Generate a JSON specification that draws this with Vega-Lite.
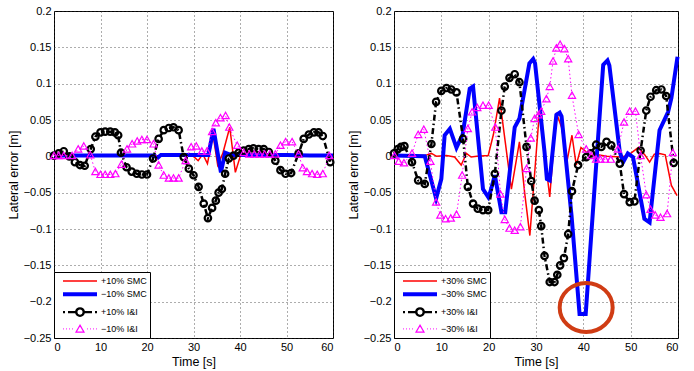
{
  "$schema": "https://vega.github.io/schema/vega-lite/v6.json",
  "background": "white",
  "padding": {"left": 6, "top": 4, "right": 5, "bottom": 3},
  "bounds": "flush",
  "spacing": 61,
  "config": {
    "font": "Liberation Sans",
    "view": {"stroke": "black", "strokeWidth": 1},
    "axis": {
      "labelFont": "Liberation Sans", "labelFontSize": 11, "labelColor": "black",
      "titleFont": "Liberation Sans", "titleFontSize": 12.5, "titleFontWeight": "normal", "titleColor": "black",
      "domain": false, "ticks": false, "labelPadding": 3, "titlePadding": 3,
      "grid": true, "gridDash": [1, 3], "gridColor": "#333333", "gridOpacity": 0.8, "gridWidth": 1
    },
    "legend": {"labelFont": "Liberation Sans"}
  },
  "resolve": {"scale": {"color": "independent", "shape": "independent", "strokeWidth": "independent"}, "legend": {"color": "independent", "shape": "independent", "strokeWidth": "independent"}},
  "datasets": {
    "L": [
      {"s": "+10% SMC", "t": 0, "v": 0.001}, {"s": "+10% SMC", "t": 10, "v": 0.001}, {"s": "+10% SMC", "t": 20, "v": 0.001}, {"s": "+10% SMC", "t": 22, "v": 0.0}, {"s": "+10% SMC", "t": 30, "v": 0.0}, {"s": "+10% SMC", "t": 31, "v": -0.006}, {"s": "+10% SMC", "t": 32, "v": 0.003}, {"s": "+10% SMC", "t": 33, "v": -0.01}, {"s": "+10% SMC", "t": 34.2, "v": 0.03}, {"s": "+10% SMC", "t": 35.2, "v": -0.012}, {"s": "+10% SMC", "t": 36.3, "v": 0.004}, {"s": "+10% SMC", "t": 37.8, "v": 0.04}, {"s": "+10% SMC", "t": 39.0, "v": -0.022}, {"s": "+10% SMC", "t": 40.2, "v": 0.003}, {"s": "+10% SMC", "t": 41, "v": 0.001}, {"s": "+10% SMC", "t": 50, "v": 0.001}, {"s": "+10% SMC", "t": 60, "v": 0.001},
      {"s": "−10% SMC", "t": 0, "v": 0.001}, {"s": "−10% SMC", "t": 21.5, "v": 0.001}, {"s": "−10% SMC", "t": 22.3, "v": -0.002}, {"s": "−10% SMC", "t": 23, "v": 0.002}, {"s": "−10% SMC", "t": 33.2, "v": 0.002}, {"s": "−10% SMC", "t": 34.3, "v": 0.038}, {"s": "−10% SMC", "t": 35.9, "v": -0.022}, {"s": "−10% SMC", "t": 36.8, "v": 0.005}, {"s": "−10% SMC", "t": 38, "v": 0.002}, {"s": "−10% SMC", "t": 50, "v": 0.002}, {"s": "−10% SMC", "t": 55, "v": 0.001}, {"s": "−10% SMC", "t": 60, "v": 0.001},
      {"s": "+10% I&I", "t": 0, "v": 0.001}, {"s": "+10% I&I", "t": 1.0, "v": 0.004}, {"s": "+10% I&I", "t": 2.1, "v": 0.007}, {"s": "+10% I&I", "t": 3.3, "v": 0.0}, {"s": "+10% I&I", "t": 4.5, "v": -0.008}, {"s": "+10% I&I", "t": 5.6, "v": -0.012}, {"s": "+10% I&I", "t": 6.6, "v": -0.013}, {"s": "+10% I&I", "t": 7.9, "v": 0.01}, {"s": "+10% I&I", "t": 8.9, "v": 0.027}, {"s": "+10% I&I", "t": 10.0, "v": 0.033}, {"s": "+10% I&I", "t": 11.0, "v": 0.034}, {"s": "+10% I&I", "t": 12.1, "v": 0.034}, {"s": "+10% I&I", "t": 13.1, "v": 0.033}, {"s": "+10% I&I", "t": 13.8, "v": 0.029}, {"s": "+10% I&I", "t": 14.4, "v": 0.005}, {"s": "+10% I&I", "t": 15.6, "v": -0.015}, {"s": "+10% I&I", "t": 16.7, "v": -0.021}, {"s": "+10% I&I", "t": 17.8, "v": -0.024}, {"s": "+10% I&I", "t": 18.9, "v": -0.025}, {"s": "+10% I&I", "t": 20.0, "v": -0.025}, {"s": "+10% I&I", "t": 21.3, "v": -0.003}, {"s": "+10% I&I", "t": 22.5, "v": 0.024}, {"s": "+10% I&I", "t": 23.6, "v": 0.036}, {"s": "+10% I&I", "t": 24.7, "v": 0.039}, {"s": "+10% I&I", "t": 25.7, "v": 0.04}, {"s": "+10% I&I", "t": 26.8, "v": 0.036}, {"s": "+10% I&I", "t": 27.9, "v": -0.001}, {"s": "+10% I&I", "t": 29.0, "v": -0.017}, {"s": "+10% I&I", "t": 30.0, "v": -0.026}, {"s": "+10% I&I", "t": 31.1, "v": -0.042}, {"s": "+10% I&I", "t": 32.2, "v": -0.065}, {"s": "+10% I&I", "t": 33.1, "v": -0.085}, {"s": "+10% I&I", "t": 34.0, "v": -0.071}, {"s": "+10% I&I", "t": 34.8, "v": -0.061}, {"s": "+10% I&I", "t": 35.4, "v": -0.05}, {"s": "+10% I&I", "t": 36.1, "v": -0.045}, {"s": "+10% I&I", "t": 36.8, "v": -0.024}, {"s": "+10% I&I", "t": 37.6, "v": -0.003}, {"s": "+10% I&I", "t": 38.6, "v": 0.001}, {"s": "+10% I&I", "t": 39.7, "v": 0.005}, {"s": "+10% I&I", "t": 40.8, "v": 0.008}, {"s": "+10% I&I", "t": 41.9, "v": 0.01}, {"s": "+10% I&I", "t": 42.9, "v": 0.011}, {"s": "+10% I&I", "t": 44.0, "v": 0.01}, {"s": "+10% I&I", "t": 45.1, "v": 0.01}, {"s": "+10% I&I", "t": 46.2, "v": 0.006}, {"s": "+10% I&I", "t": 47.6, "v": -0.006}, {"s": "+10% I&I", "t": 48.7, "v": -0.019}, {"s": "+10% I&I", "t": 49.8, "v": -0.024}, {"s": "+10% I&I", "t": 51.0, "v": -0.023}, {"s": "+10% I&I", "t": 52.6, "v": 0.004}, {"s": "+10% I&I", "t": 53.7, "v": 0.024}, {"s": "+10% I&I", "t": 54.8, "v": 0.03}, {"s": "+10% I&I", "t": 55.9, "v": 0.033}, {"s": "+10% I&I", "t": 56.9, "v": 0.033}, {"s": "+10% I&I", "t": 57.8, "v": 0.028}, {"s": "+10% I&I", "t": 59.4, "v": -0.008},
      {"s": "−10% I&I", "t": 0, "v": 0.001}, {"s": "−10% I&I", "t": 1.0, "v": 0.001}, {"s": "−10% I&I", "t": 2.1, "v": 0.001}, {"s": "−10% I&I", "t": 3.9, "v": 0.001}, {"s": "−10% I&I", "t": 5.2, "v": 0.01}, {"s": "−10% I&I", "t": 6.4, "v": 0.014}, {"s": "−10% I&I", "t": 7.8, "v": 0.002}, {"s": "−10% I&I", "t": 8.9, "v": -0.021}, {"s": "−10% I&I", "t": 10.0, "v": -0.025}, {"s": "−10% I&I", "t": 11.0, "v": -0.025}, {"s": "−10% I&I", "t": 12.1, "v": -0.025}, {"s": "−10% I&I", "t": 13.2, "v": -0.024}, {"s": "−10% I&I", "t": 14.5, "v": -0.011}, {"s": "−10% I&I", "t": 15.7, "v": 0.01}, {"s": "−10% I&I", "t": 16.8, "v": 0.017}, {"s": "−10% I&I", "t": 17.9, "v": 0.021}, {"s": "−10% I&I", "t": 18.9, "v": 0.023}, {"s": "−10% I&I", "t": 20.0, "v": 0.023}, {"s": "−10% I&I", "t": 21.4, "v": 0.017}, {"s": "−10% I&I", "t": 22.5, "v": -0.012}, {"s": "−10% I&I", "t": 23.6, "v": -0.026}, {"s": "−10% I&I", "t": 24.7, "v": -0.03}, {"s": "−10% I&I", "t": 25.7, "v": -0.03}, {"s": "−10% I&I", "t": 26.8, "v": -0.03}, {"s": "−10% I&I", "t": 28.3, "v": -0.006}, {"s": "−10% I&I", "t": 29.5, "v": 0.013}, {"s": "−10% I&I", "t": 30.6, "v": 0.014}, {"s": "−10% I&I", "t": 31.8, "v": 0.007}, {"s": "−10% I&I", "t": 32.9, "v": 0.007}, {"s": "−10% I&I", "t": 34.0, "v": 0.034}, {"s": "−10% I&I", "t": 34.8, "v": 0.046}, {"s": "−10% I&I", "t": 35.8, "v": 0.053}, {"s": "−10% I&I", "t": 36.9, "v": 0.056}, {"s": "−10% I&I", "t": 37.7, "v": 0.04}, {"s": "−10% I&I", "t": 39.4, "v": 0.015}, {"s": "−10% I&I", "t": 40.8, "v": 0.005}, {"s": "−10% I&I", "t": 42.0, "v": 0.003}, {"s": "−10% I&I", "t": 43.1, "v": 0.003}, {"s": "−10% I&I", "t": 44.2, "v": 0.003}, {"s": "−10% I&I", "t": 45.3, "v": 0.003}, {"s": "−10% I&I", "t": 46.4, "v": 0.003}, {"s": "−10% I&I", "t": 47.6, "v": 0.003}, {"s": "−10% I&I", "t": 48.7, "v": 0.015}, {"s": "−10% I&I", "t": 49.8, "v": 0.02}, {"s": "−10% I&I", "t": 51.2, "v": 0.02}, {"s": "−10% I&I", "t": 52.6, "v": 0.003}, {"s": "−10% I&I", "t": 53.5, "v": -0.016}, {"s": "−10% I&I", "t": 54.4, "v": -0.021}, {"s": "−10% I&I", "t": 55.5, "v": -0.024}, {"s": "−10% I&I", "t": 56.6, "v": -0.025}, {"s": "−10% I&I", "t": 57.8, "v": -0.024}, {"s": "−10% I&I", "t": 59.2, "v": 0.001}
    ],
    "R": [
      {"s": "+30% SMC", "t": 0, "v": 0.001}, {"s": "+30% SMC", "t": 5, "v": 0.001}, {"s": "+30% SMC", "t": 6.5, "v": 0.001}, {"s": "+30% SMC", "t": 7.9, "v": 0.004}, {"s": "+30% SMC", "t": 9, "v": 0.0}, {"s": "+30% SMC", "t": 11.1, "v": 0.001}, {"s": "+30% SMC", "t": 12.8, "v": -0.001}, {"s": "+30% SMC", "t": 14.2, "v": -0.012}, {"s": "+30% SMC", "t": 15.3, "v": 0.004}, {"s": "+30% SMC", "t": 16.3, "v": -0.001}, {"s": "+30% SMC", "t": 17.5, "v": 0.0}, {"s": "+30% SMC", "t": 19.9, "v": 0.001}, {"s": "+30% SMC", "t": 21.0, "v": 0.03}, {"s": "+30% SMC", "t": 22.3, "v": 0.08}, {"s": "+30% SMC", "t": 23.5, "v": 0.02}, {"s": "+30% SMC", "t": 24.8, "v": -0.045}, {"s": "+30% SMC", "t": 26.5, "v": 0.02}, {"s": "+30% SMC", "t": 27.6, "v": -0.05}, {"s": "+30% SMC", "t": 28.7, "v": -0.109}, {"s": "+30% SMC", "t": 30.7, "v": 0.06}, {"s": "+30% SMC", "t": 31.8, "v": 0.005}, {"s": "+30% SMC", "t": 32.9, "v": -0.056}, {"s": "+30% SMC", "t": 34.3, "v": 0.06}, {"s": "+30% SMC", "t": 35.4, "v": 0.04}, {"s": "+30% SMC", "t": 36.6, "v": -0.005}, {"s": "+30% SMC", "t": 37.6, "v": 0.029}, {"s": "+30% SMC", "t": 38.5, "v": -0.012}, {"s": "+30% SMC", "t": 39.5, "v": 0.012}, {"s": "+30% SMC", "t": 40.3, "v": 0.008}, {"s": "+30% SMC", "t": 41.3, "v": 0.001}, {"s": "+30% SMC", "t": 43, "v": 0.002}, {"s": "+30% SMC", "t": 45, "v": 0.0}, {"s": "+30% SMC", "t": 48.0, "v": -0.001}, {"s": "+30% SMC", "t": 49.4, "v": 0.001}, {"s": "+30% SMC", "t": 51.6, "v": 0.012}, {"s": "+30% SMC", "t": 53, "v": 0.002}, {"s": "+30% SMC", "t": 54.0, "v": -0.008}, {"s": "+30% SMC", "t": 55.0, "v": 0.003}, {"s": "+30% SMC", "t": 56.1, "v": 0.004}, {"s": "+30% SMC", "t": 57.3, "v": 0.002}, {"s": "+30% SMC", "t": 58.6, "v": -0.04}, {"s": "+30% SMC", "t": 59.8, "v": -0.054},
      {"s": "−30% SMC", "t": 0, "v": 0.001}, {"s": "−30% SMC", "t": 6.5, "v": 0.0}, {"s": "−30% SMC", "t": 8.9, "v": -0.058}, {"s": "−30% SMC", "t": 10.0, "v": -0.031}, {"s": "−30% SMC", "t": 10.7, "v": 0.029}, {"s": "−30% SMC", "t": 11.8, "v": 0.038}, {"s": "−30% SMC", "t": 13.2, "v": 0.012}, {"s": "−30% SMC", "t": 14.5, "v": 0.03}, {"s": "−30% SMC", "t": 16.0, "v": 0.093}, {"s": "−30% SMC", "t": 16.7, "v": 0.096}, {"s": "−30% SMC", "t": 18.8, "v": -0.045}, {"s": "−30% SMC", "t": 19.9, "v": -0.056}, {"s": "−30% SMC", "t": 20.3, "v": -0.05}, {"s": "−30% SMC", "t": 21.3, "v": -0.026}, {"s": "−30% SMC", "t": 22.7, "v": -0.077}, {"s": "−30% SMC", "t": 23.5, "v": -0.077}, {"s": "−30% SMC", "t": 25.5, "v": 0.04}, {"s": "−30% SMC", "t": 26.5, "v": 0.052}, {"s": "−30% SMC", "t": 28.6, "v": 0.128}, {"s": "−30% SMC", "t": 29.4, "v": 0.134}, {"s": "−30% SMC", "t": 29.8, "v": 0.128}, {"s": "−30% SMC", "t": 31.8, "v": 0.006}, {"s": "−30% SMC", "t": 32.3, "v": -0.031}, {"s": "−30% SMC", "t": 32.9, "v": -0.033}, {"s": "−30% SMC", "t": 34.3, "v": 0.057}, {"s": "−30% SMC", "t": 35.0, "v": 0.06}, {"s": "−30% SMC", "t": 35.4, "v": 0.055}, {"s": "−30% SMC", "t": 37.5, "v": -0.081}, {"s": "−30% SMC", "t": 39.2, "v": -0.217}, {"s": "−30% SMC", "t": 40.5, "v": -0.217}, {"s": "−30% SMC", "t": 44.2, "v": 0.126}, {"s": "−30% SMC", "t": 45.1, "v": 0.132}, {"s": "−30% SMC", "t": 45.5, "v": 0.125}, {"s": "−30% SMC", "t": 47.7, "v": 0.006}, {"s": "−30% SMC", "t": 48.4, "v": -0.008}, {"s": "−30% SMC", "t": 49.4, "v": 0.004}, {"s": "−30% SMC", "t": 50.5, "v": -0.001}, {"s": "−30% SMC", "t": 52.9, "v": -0.086}, {"s": "−30% SMC", "t": 54.0, "v": -0.091}, {"s": "−30% SMC", "t": 56.1, "v": 0.036}, {"s": "−30% SMC", "t": 57.9, "v": 0.061}, {"s": "−30% SMC", "t": 58.6, "v": 0.08}, {"s": "−30% SMC", "t": 59.9, "v": 0.137},
      {"s": "+30% I&I", "t": 0, "v": 0.004}, {"s": "+30% I&I", "t": 0.8, "v": 0.01}, {"s": "+30% I&I", "t": 1.5, "v": 0.013}, {"s": "+30% I&I", "t": 2.2, "v": 0.014}, {"s": "+30% I&I", "t": 3.8, "v": -0.008}, {"s": "+30% I&I", "t": 5.1, "v": -0.033}, {"s": "+30% I&I", "t": 6.5, "v": -0.038}, {"s": "+30% I&I", "t": 7.9, "v": 0.017}, {"s": "+30% I&I", "t": 8.9, "v": 0.075}, {"s": "+30% I&I", "t": 10.0, "v": 0.09}, {"s": "+30% I&I", "t": 11.1, "v": 0.094}, {"s": "+30% I&I", "t": 12.1, "v": 0.092}, {"s": "+30% I&I", "t": 13.2, "v": 0.088}, {"s": "+30% I&I", "t": 14.6, "v": 0.024}, {"s": "+30% I&I", "t": 15.6, "v": -0.042}, {"s": "+30% I&I", "t": 16.7, "v": -0.065}, {"s": "+30% I&I", "t": 17.7, "v": -0.072}, {"s": "+30% I&I", "t": 18.8, "v": -0.074}, {"s": "+30% I&I", "t": 19.9, "v": -0.074}, {"s": "+30% I&I", "t": 21.3, "v": -0.024}, {"s": "+30% I&I", "t": 22.7, "v": 0.063}, {"s": "+30% I&I", "t": 23.4, "v": 0.096}, {"s": "+30% I&I", "t": 24.4, "v": 0.108}, {"s": "+30% I&I", "t": 25.5, "v": 0.113}, {"s": "+30% I&I", "t": 26.5, "v": 0.102}, {"s": "+30% I&I", "t": 28.0, "v": 0.013}, {"s": "+30% I&I", "t": 29.0, "v": -0.034}, {"s": "+30% I&I", "t": 29.7, "v": -0.061}, {"s": "+30% I&I", "t": 30.6, "v": -0.074}, {"s": "+30% I&I", "t": 31.1, "v": -0.096}, {"s": "+30% I&I", "t": 31.8, "v": -0.137}, {"s": "+30% I&I", "t": 32.9, "v": -0.173}, {"s": "+30% I&I", "t": 33.9, "v": -0.173}, {"s": "+30% I&I", "t": 34.5, "v": -0.163}, {"s": "+30% I&I", "t": 35.1, "v": -0.15}, {"s": "+30% I&I", "t": 35.9, "v": -0.14}, {"s": "+30% I&I", "t": 36.8, "v": -0.107}, {"s": "+30% I&I", "t": 37.6, "v": -0.048}, {"s": "+30% I&I", "t": 38.9, "v": -0.012}, {"s": "+30% I&I", "t": 40.6, "v": -0.001}, {"s": "+30% I&I", "t": 41.6, "v": 0.004}, {"s": "+30% I&I", "t": 42.7, "v": 0.016}, {"s": "+30% I&I", "t": 43.8, "v": 0.013}, {"s": "+30% I&I", "t": 44.9, "v": 0.02}, {"s": "+30% I&I", "t": 45.9, "v": 0.015}, {"s": "+30% I&I", "t": 47.7, "v": -0.01}, {"s": "+30% I&I", "t": 48.6, "v": -0.052}, {"s": "+30% I&I", "t": 49.8, "v": -0.063}, {"s": "+30% I&I", "t": 50.8, "v": -0.062}, {"s": "+30% I&I", "t": 52.1, "v": 0.008}, {"s": "+30% I&I", "t": 53.3, "v": 0.063}, {"s": "+30% I&I", "t": 54.2, "v": 0.082}, {"s": "+30% I&I", "t": 55.4, "v": 0.091}, {"s": "+30% I&I", "t": 56.5, "v": 0.092}, {"s": "+30% I&I", "t": 57.5, "v": 0.083}, {"s": "+30% I&I", "t": 59.1, "v": -0.009},
      {"s": "−30% I&I", "t": 0.1, "v": 0.001}, {"s": "−30% I&I", "t": 1.0, "v": -0.007}, {"s": "−30% I&I", "t": 2.1, "v": -0.009}, {"s": "−30% I&I", "t": 3.8, "v": 0.004}, {"s": "−30% I&I", "t": 5.1, "v": 0.03}, {"s": "−30% I&I", "t": 6.3, "v": 0.037}, {"s": "−30% I&I", "t": 7.7, "v": -0.007}, {"s": "−30% I&I", "t": 8.9, "v": -0.063}, {"s": "−30% I&I", "t": 9.8, "v": -0.081}, {"s": "−30% I&I", "t": 10.9, "v": -0.086}, {"s": "−30% I&I", "t": 12.0, "v": -0.085}, {"s": "−30% I&I", "t": 13.2, "v": -0.08}, {"s": "−30% I&I", "t": 14.4, "v": -0.026}, {"s": "−30% I&I", "t": 15.6, "v": 0.038}, {"s": "−30% I&I", "t": 16.5, "v": 0.061}, {"s": "−30% I&I", "t": 17.6, "v": 0.067}, {"s": "−30% I&I", "t": 18.8, "v": 0.07}, {"s": "−30% I&I", "t": 20.0, "v": 0.07}, {"s": "−30% I&I", "t": 21.4, "v": 0.04}, {"s": "−30% I&I", "t": 22.5, "v": -0.052}, {"s": "−30% I&I", "t": 23.4, "v": -0.087}, {"s": "−30% I&I", "t": 24.4, "v": -0.099}, {"s": "−30% I&I", "t": 25.5, "v": -0.102}, {"s": "−30% I&I", "t": 26.7, "v": -0.097}, {"s": "−30% I&I", "t": 28.0, "v": -0.017}, {"s": "−30% I&I", "t": 28.9, "v": 0.025}, {"s": "−30% I&I", "t": 29.7, "v": 0.052}, {"s": "−30% I&I", "t": 30.5, "v": 0.057}, {"s": "−30% I&I", "t": 31.1, "v": 0.062}, {"s": "−30% I&I", "t": 32.2, "v": 0.079}, {"s": "−30% I&I", "t": 32.9, "v": 0.096}, {"s": "−30% I&I", "t": 33.6, "v": 0.131}, {"s": "−30% I&I", "t": 34.3, "v": 0.149}, {"s": "−30% I&I", "t": 35.1, "v": 0.154}, {"s": "−30% I&I", "t": 36.0, "v": 0.148}, {"s": "−30% I&I", "t": 36.8, "v": 0.134}, {"s": "−30% I&I", "t": 37.6, "v": 0.084}, {"s": "−30% I&I", "t": 39.0, "v": 0.03}, {"s": "−30% I&I", "t": 40.6, "v": 0.01}, {"s": "−30% I&I", "t": 41.7, "v": 0.001}, {"s": "−30% I&I", "t": 42.7, "v": -0.004}, {"s": "−30% I&I", "t": 43.6, "v": -0.004}, {"s": "−30% I&I", "t": 44.6, "v": -0.004}, {"s": "−30% I&I", "t": 45.8, "v": -0.004}, {"s": "−30% I&I", "t": 47.3, "v": 0.01}, {"s": "−30% I&I", "t": 48.6, "v": 0.047}, {"s": "−30% I&I", "t": 49.8, "v": 0.062}, {"s": "−30% I&I", "t": 51.0, "v": 0.062}, {"s": "−30% I&I", "t": 52.1, "v": 0.001}, {"s": "−30% I&I", "t": 53.3, "v": -0.053}, {"s": "−30% I&I", "t": 54.2, "v": -0.073}, {"s": "−30% I&I", "t": 55.2, "v": -0.081}, {"s": "−30% I&I", "t": 56.3, "v": -0.084}, {"s": "−30% I&I", "t": 57.7, "v": -0.079}, {"s": "−30% I&I", "t": 58.9, "v": 0.005}
    ],
    "ANN": [{"t": 40.6, "v": -0.208}]
  },
  "hconcat": [
    {
      "width": 279, "height": 327,
      "data": {"name": "L"},
      "encoding": {
        "x": {"field": "t", "type": "quantitative", "scale": {"domain": [0, 60], "nice": false}, "axis": {"title": "Time [s]", "values": [0, 10, 20, 30, 40, 50, 60]}},
        "y": {"field": "v", "type": "quantitative", "scale": {"domain": [-0.25, 0.2], "nice": false, "zero": false}, "axis": {"title": "Lateral error [m]", "values": [-0.25, -0.2, -0.15, -0.1, -0.05, 0, 0.05, 0.1, 0.15, 0.2], "format": "~g"}}
      },
      "layer": [
        {"mark": {"type": "point", "filled": false, "opacity": 0, "size": 100},
         "encoding": {
           "color": {"field": "s", "type": "nominal", "scale": {"domain": ["+10% SMC", "−10% SMC", "+10% I&I", "−10% I&I"], "range": ["#ff0000", "#0000ff", "#000000", "#ff00ff"]},
             "legend": {"title": null, "orient": "bottom-left", "offset": 0, "padding": 3, "fillColor": "white", "strokeColor": "black", "symbolSize": 100, "symbolOpacity": 1, "symbolOffset": 16, "labelOffset": 14, "labelFontSize": 9, "labelColor": "black", "rowPadding": 0.3}},
           "shape": {"field": "s", "type": "nominal", "scale": {"domain": ["+10% SMC", "−10% SMC", "+10% I&I", "−10% I&I"], "range": ["M-3.4,0L3.4,0", "M-3.4,0L3.4,0", "M-3.4,0H-3.0M-2.4,0H-0.75M0.75,0H2.4M3.0,0H3.4M0.75,0A0.75,0.75,0,1,1,-0.75,0A0.75,0.75,0,1,1,0.75,0", "M-3.4,0h0.15M-2.8,0h0.15M-2.2,0h0.15M-1.6,0h0.15M1.45,0h0.15M2.05,0h0.15M2.65,0h0.15M3.25,0h0.15M0,-0.75L0.8,0.65L-0.8,0.65Z"]},
             "legend": {"title": null, "orient": "bottom-left", "offset": 0, "padding": 3, "fillColor": "white", "strokeColor": "black", "symbolSize": 100, "symbolOpacity": 1, "symbolOffset": 16, "labelOffset": 14, "labelFontSize": 9, "labelColor": "black", "rowPadding": 0.3}},
           "strokeWidth": {"field": "s", "type": "nominal", "scale": {"type": "ordinal", "domain": ["+10% SMC", "−10% SMC", "+10% I&I", "−10% I&I"], "range": [1.5, 4, 2.4, 1.2]},
             "legend": {"title": null, "orient": "bottom-left", "offset": 0, "padding": 3, "fillColor": "white", "strokeColor": "black", "symbolSize": 100, "symbolOpacity": 1, "symbolOffset": 16, "labelOffset": 14, "labelFontSize": 9, "labelColor": "black", "rowPadding": 0.3}}
         }},
        {"transform": [{"filter": "datum.s === '+10% SMC'"}], "mark": {"type": "line", "strokeWidth": 1.5},
         "encoding": {"color": {"field": "s", "type": "nominal", "scale": {"domain": ["+10% SMC", "−10% SMC", "+10% I&I", "−10% I&I"], "range": ["#ff0000", "#0000ff", "#000000", "#ff00ff"]}}}},
        {"transform": [{"filter": "datum.s === '−10% SMC'"}], "mark": {"type": "line", "strokeWidth": 4},
         "encoding": {"color": {"field": "s", "type": "nominal", "scale": {"domain": ["+10% SMC", "−10% SMC", "+10% I&I", "−10% I&I"], "range": ["#ff0000", "#0000ff", "#000000", "#ff00ff"]}}}},
        {"transform": [{"filter": "datum.s === '+10% I&I'"}], "mark": {"type": "line", "strokeWidth": 2.5, "strokeDash": [6, 3, 1.5, 3]},
         "encoding": {"color": {"field": "s", "type": "nominal", "scale": {"domain": ["+10% SMC", "−10% SMC", "+10% I&I", "−10% I&I"], "range": ["#ff0000", "#0000ff", "#000000", "#ff00ff"]}}}},
        {"transform": [{"filter": "datum.s === '+10% I&I'"}], "mark": {"type": "point", "shape": "circle", "filled": false, "stroke": "#000000", "strokeWidth": 2.2, "size": 42, "opacity": 1}},
        {"transform": [{"filter": "datum.s === '−10% I&I'"}], "mark": {"type": "line", "strokeWidth": 1, "strokeDash": [1.5, 2.5]},
         "encoding": {"color": {"field": "s", "type": "nominal", "scale": {"domain": ["+10% SMC", "−10% SMC", "+10% I&I", "−10% I&I"], "range": ["#ff0000", "#0000ff", "#000000", "#ff00ff"]}}}},
        {"transform": [{"filter": "datum.s === '−10% I&I'"}], "mark": {"type": "point", "shape": "M0,-0.85L0.9,0.75L-0.9,0.75Z", "filled": false, "stroke": "#ff00ff", "strokeWidth": 1.2, "size": 64, "opacity": 1}}
      ]
    },
    {
      "width": 284, "height": 327,
      "data": {"name": "R"},
      "encoding": {
        "x": {"field": "t", "type": "quantitative", "scale": {"domain": [0, 60], "nice": false}, "axis": {"title": "Time [s]", "values": [0, 10, 20, 30, 40, 50, 60]}},
        "y": {"field": "v", "type": "quantitative", "scale": {"domain": [-0.25, 0.2], "nice": false, "zero": false}, "axis": {"title": "Lateral error [m]", "values": [-0.25, -0.2, -0.15, -0.1, -0.05, 0, 0.05, 0.1, 0.15, 0.2], "format": "~g"}}
      },
      "layer": [
        {"mark": {"type": "point", "filled": false, "opacity": 0, "size": 100},
         "encoding": {
           "color": {"field": "s", "type": "nominal", "scale": {"domain": ["+30% SMC", "−30% SMC", "+30% I&I", "−30% I&I"], "range": ["#ff0000", "#0000ff", "#000000", "#ff00ff"]},
             "legend": {"title": null, "orient": "bottom-left", "offset": 0, "padding": 3, "fillColor": "white", "strokeColor": "black", "symbolSize": 100, "symbolOpacity": 1, "symbolOffset": 16, "labelOffset": 14, "labelFontSize": 9, "labelColor": "black", "rowPadding": 0.3}},
           "shape": {"field": "s", "type": "nominal", "scale": {"domain": ["+30% SMC", "−30% SMC", "+30% I&I", "−30% I&I"], "range": ["M-3.4,0L3.4,0", "M-3.4,0L3.4,0", "M-3.4,0H-3.0M-2.4,0H-0.75M0.75,0H2.4M3.0,0H3.4M0.75,0A0.75,0.75,0,1,1,-0.75,0A0.75,0.75,0,1,1,0.75,0", "M-3.4,0h0.15M-2.8,0h0.15M-2.2,0h0.15M-1.6,0h0.15M1.45,0h0.15M2.05,0h0.15M2.65,0h0.15M3.25,0h0.15M0,-0.75L0.8,0.65L-0.8,0.65Z"]},
             "legend": {"title": null, "orient": "bottom-left", "offset": 0, "padding": 3, "fillColor": "white", "strokeColor": "black", "symbolSize": 100, "symbolOpacity": 1, "symbolOffset": 16, "labelOffset": 14, "labelFontSize": 9, "labelColor": "black", "rowPadding": 0.3}},
           "strokeWidth": {"field": "s", "type": "nominal", "scale": {"type": "ordinal", "domain": ["+30% SMC", "−30% SMC", "+30% I&I", "−30% I&I"], "range": [1.5, 4, 2.4, 1.2]},
             "legend": {"title": null, "orient": "bottom-left", "offset": 0, "padding": 3, "fillColor": "white", "strokeColor": "black", "symbolSize": 100, "symbolOpacity": 1, "symbolOffset": 16, "labelOffset": 14, "labelFontSize": 9, "labelColor": "black", "rowPadding": 0.3}}
         }},
        {"transform": [{"filter": "datum.s === '+30% SMC'"}], "mark": {"type": "line", "strokeWidth": 1.5},
         "encoding": {"color": {"field": "s", "type": "nominal", "scale": {"domain": ["+30% SMC", "−30% SMC", "+30% I&I", "−30% I&I"], "range": ["#ff0000", "#0000ff", "#000000", "#ff00ff"]}}}},
        {"transform": [{"filter": "datum.s === '−30% SMC'"}], "mark": {"type": "line", "strokeWidth": 4},
         "encoding": {"color": {"field": "s", "type": "nominal", "scale": {"domain": ["+30% SMC", "−30% SMC", "+30% I&I", "−30% I&I"], "range": ["#ff0000", "#0000ff", "#000000", "#ff00ff"]}}}},
        {"transform": [{"filter": "datum.s === '+30% I&I'"}], "mark": {"type": "line", "strokeWidth": 2.5, "strokeDash": [6, 3, 1.5, 3]},
         "encoding": {"color": {"field": "s", "type": "nominal", "scale": {"domain": ["+30% SMC", "−30% SMC", "+30% I&I", "−30% I&I"], "range": ["#ff0000", "#0000ff", "#000000", "#ff00ff"]}}}},
        {"transform": [{"filter": "datum.s === '+30% I&I'"}], "mark": {"type": "point", "shape": "circle", "filled": false, "stroke": "#000000", "strokeWidth": 2.2, "size": 42, "opacity": 1}},
        {"transform": [{"filter": "datum.s === '−30% I&I'"}], "mark": {"type": "line", "strokeWidth": 1, "strokeDash": [1.5, 2.5]},
         "encoding": {"color": {"field": "s", "type": "nominal", "scale": {"domain": ["+30% SMC", "−30% SMC", "+30% I&I", "−30% I&I"], "range": ["#ff0000", "#0000ff", "#000000", "#ff00ff"]}}}},
        {"transform": [{"filter": "datum.s === '−30% I&I'"}], "mark": {"type": "point", "shape": "M0,-0.85L0.9,0.75L-0.9,0.75Z", "filled": false, "stroke": "#ff00ff", "strokeWidth": 1.2, "size": 64, "opacity": 1}},
        {"data": {"name": "ANN"}, "mark": {"type": "point", "shape": "M-1,0A1,0.925,0,1,1,1,0A1,0.925,0,1,1,-1,0", "size": 2809, "filled": false, "stroke": "#d03c14", "strokeWidth": 4, "opacity": 1}}
      ]
    }
  ]
}
